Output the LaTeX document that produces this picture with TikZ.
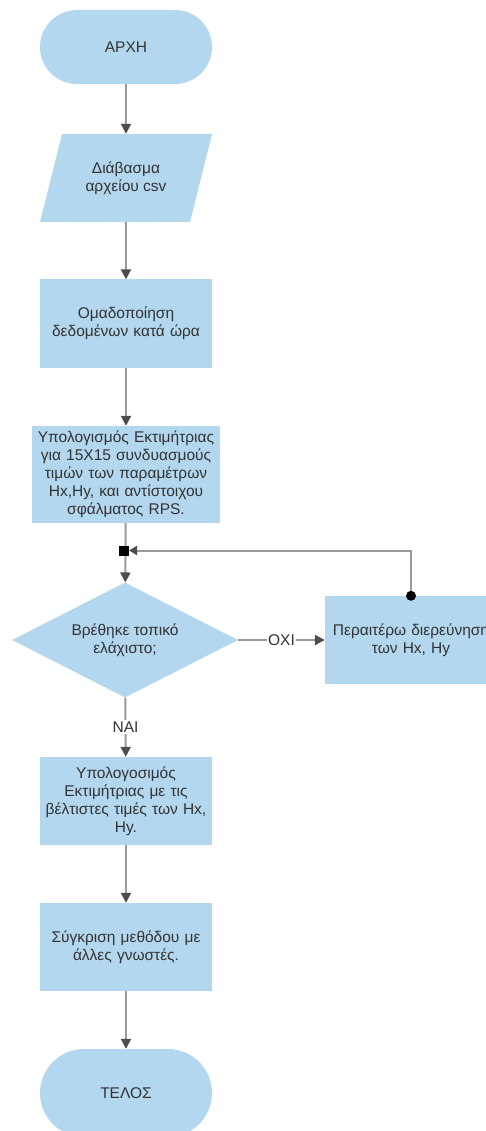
\documentclass[tikz,border=0pt]{standalone}
\usepackage{fontspec}
\setmainfont{Liberation Sans}
\usetikzlibrary{shapes.geometric,arrows.meta}
\definecolor{boxfill}{HTML}{B3D7EE}
\definecolor{linegray}{HTML}{999999}
\definecolor{tipgray}{HTML}{4D4D4D}
\definecolor{txt}{HTML}{333333}
\tikzset{
  base/.style={fill=boxfill, draw=none, text=txt, align=center, inner sep=2pt,
    font=\fontsize{15.5}{18}\selectfont},
  procbox/.style={base, rectangle, minimum width=172pt, minimum height=88pt, text width=168pt},
  termbox/.style={base, rectangle, rounded corners=37pt, minimum width=172pt, minimum height=74pt},
  iobox/.style={draw=none, fill=none, text=txt, align=center, font=\fontsize{15.5}{18}\selectfont,
    minimum width=150pt, minimum height=88pt},
  decbox/.style={base, diamond, shape aspect=2, inner sep=0pt, minimum width=226pt, minimum height=115pt},
  conn/.style={draw=linegray, line width=2pt, -{Triangle[length=10pt,width=10pt,color=tipgray]}},
  lbl/.style={fill=white, text=txt, inner sep=1.5pt, font=\fontsize{15.5}{17}\selectfont},
}
\begin{document}
\begin{tikzpicture}[x=1pt,y=-1pt]
\useasboundingbox (0,0) rectangle (486,1131);
\node[termbox] (start) at (126,47) {ΑΡΧΗ};
\fill[boxfill] (62,134) -- (212,134) -- (190,222) -- (40,222) -- cycle;
\node[iobox] (read) at (126,178) {Διάβασμα\\αρχείου csv};
\node[procbox] (group) at (126,323.5) {Ομαδοποίηση\\δεδομένων κατά ώρα};
\node[procbox, minimum width=188pt, minimum height=97pt, text width=184pt] (est) at (126,474.5)
  {Υπολογισμός Εκτιμήτριας\\για 15Χ15 συνδυασμούς\\τιμών των παραμέτρων\\Hx,Hy, και αντίστοιχου\\σφάλματος RPS.};
\node[decbox] (dec) at (125,640) {Βρέθηκε τοπικό\\ελάχιστο;};
\node[procbox] (more) at (411,640) {Περαιτέρω διερεύνηση\\των Hx, Hy};
\node[procbox] (best) at (126,801) {Υπολογοσιμός\\Εκτιμήτριας με τις\\βέλτιστες τιμές των Hx,\\Hy.};
\node[procbox] (cmp) at (126,947) {Σύγκριση μεθόδου με\\άλλες γνωστές.};
\node[termbox, minimum height=88pt, rounded corners=44pt] (end) at (126,1093) {ΤΕΛΟΣ};
\coordinate (junc) at (124,550.5);

\draw[conn] (start) -- (read);
\draw[conn] (read) -- (group);
\draw[conn] (group) -- (est);
\draw[conn] (est) -- (dec);
\draw[conn] (dec) -- node[lbl, pos=0.5] {ΟΧΙ} (more);
\draw[conn] (dec) -- node[lbl, pos=0.5] {ΝΑΙ} (best);
\draw[conn] (best) -- (cmp);
\draw[conn] (cmp) -- (end);
\draw[conn, -{Triangle[length=8pt,width=9pt,color=tipgray]}]
  (more.north) |- ([xshift=5pt]junc);
\fill[black] (more.north) circle (5pt);
\fill[black] ([xshift=-5pt,yshift=-5pt]junc) rectangle ([xshift=5pt,yshift=5pt]junc);
\end{tikzpicture}
\end{document}
